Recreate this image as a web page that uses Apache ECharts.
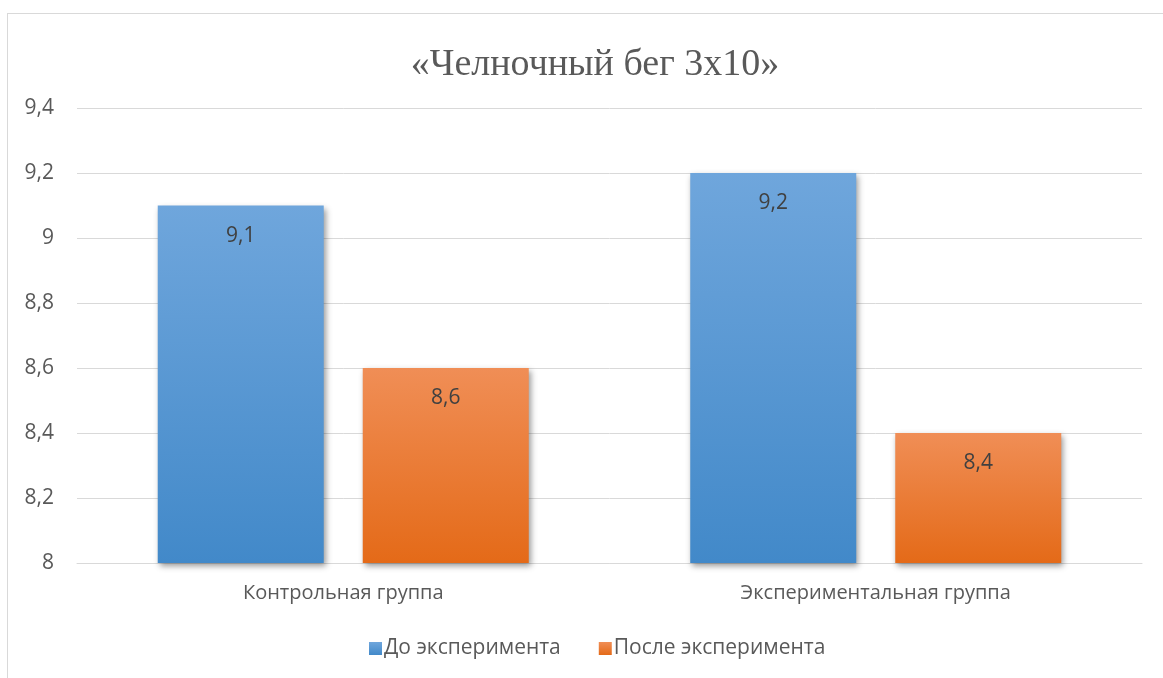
<!DOCTYPE html>
<html>
<head>
<meta charset="utf-8">
<script src="https://cdn.jsdelivr.net/npm/echarts@6/dist/echarts.min.js"></script>
<style>
  html, body { margin: 0; padding: 0; background: #fff; }
  #frame { position: absolute; left: 7px; top: 13px; width: 1200px; height: 700px;
           border-left: 1px solid #d9d9d9; border-top: 1px solid #d9d9d9; }
  #main { position: absolute; left: 0; top: 0; width: 1163px; height: 678px; }
</style>
</head>
<body>
<div id="frame"></div>
<div id="main"></div>
<script>
var categories = ['Контрольная группа', 'Экспериментальная группа'];
var seriesNames = ['До эксперимента', 'После эксперимента'];
var before = [9.1, 9.2];
var after = [8.6, 8.4];
var yMin = 8, yMax = 9.4, yStep = 0.2;

function fmt(v) {
  return String(+(+v).toFixed(1)).replace('.', ',');
}

function grad(top, bottom) {
  return new echarts.graphic.LinearGradient(0, 0, 0, 1, [
    { offset: 0, color: top },
    { offset: 1, color: bottom }
  ]);
}

var labelStyle = {
  show: true,
  position: 'insideTop',
  distance: 20,
  color: '#404040',
  fontSize: 21,
  fontFamily: 'Open Sans',
  formatter: function (p) { return fmt(p.value); }
};

var chart = echarts.init(document.getElementById('main'), null, { renderer: 'canvas' });
chart.setOption({
  animation: false,
  backgroundColor: 'transparent',
  title: {
    text: '«Челночный бег 3х10»',
    left: 590,
    top: 41,
    textAlign: 'center',
    textStyle: {
      fontFamily: 'Liberation Serif',
      fontWeight: 'normal',
      fontSize: 38,
      color: '#595959'
    }
  },
  legend: {
    top: 633,
    left: 364,
    itemWidth: 13,
    itemHeight: 13,
    itemGap: 38,
    icon: 'rect',
    textStyle: { fontFamily: 'Open Sans', fontSize: 21, color: '#595959', padding: [0, 0, 0, -3] },
    data: seriesNames
  },
  grid: { left: 77, right: 21, top: 108, height: 455 },
  xAxis: {
    type: 'category',
    data: categories,
    axisLine: { lineStyle: { color: '#d9d9d9', width: 1 } },
    axisTick: { show: false },
    axisLabel: { margin: 20, fontFamily: 'Open Sans', fontSize: 20, color: '#595959' }
  },
  yAxis: {
    type: 'value',
    min: yMin,
    max: yMax,
    interval: yStep,
    axisLine: { show: false },
    axisTick: { show: false },
    splitLine: { lineStyle: { color: '#d9d9d9', width: 1 } },
    axisLabel: { margin: 23, fontFamily: 'Open Sans', fontSize: 21, color: '#595959', formatter: fmt }
  },
  series: [
    {
      name: seriesNames[0],
      type: 'bar',
      data: before,
      barWidth: 166,
      barGap: '23.5%',
      itemStyle: {
        color: grad('#6fa6dc', '#4289c9'),
        shadowBlur: 6,
        shadowColor: 'rgba(0,0,0,0.4)',
        shadowOffsetX: 2,
        shadowOffsetY: 3
      },
      label: labelStyle
    },
    {
      name: seriesNames[1],
      type: 'bar',
      data: after,
      barWidth: 166,
      barGap: '23.5%',
      itemStyle: {
        color: grad('#f08e56', '#e46a18'),
        shadowBlur: 6,
        shadowColor: 'rgba(0,0,0,0.4)',
        shadowOffsetX: 2,
        shadowOffsetY: 3
      },
      label: labelStyle
    }
  ]
});
</script>
</body>
</html>
